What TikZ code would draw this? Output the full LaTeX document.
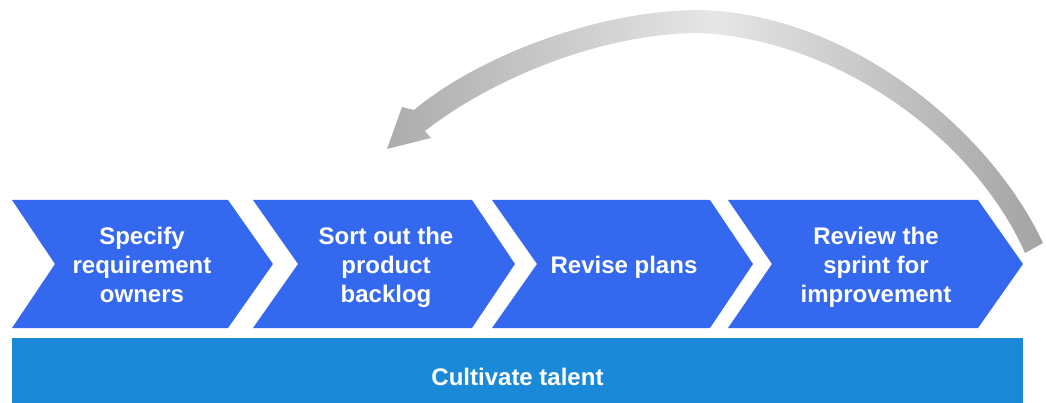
\documentclass[tikz,border=0pt]{standalone}
\usepackage{fontspec}
\setmainfont{Liberation Sans}
\definecolor{chev}{RGB}{52,104,238}
\definecolor{barblue}{RGB}{26,138,216}
\definecolor{arcend}{RGB}{172,172,172}
\definecolor{arcmid}{RGB}{230,230,230}
\begin{document}
\begin{tikzpicture}[x=1pt,y=-1pt,
  chevbox/.style={fill=chev, draw=none},
  lbl/.style={text=white, font=\bfseries\fontsize{24}{29}\selectfont, align=center, inner sep=0pt}]
\useasboundingbox (0,0) rectangle (1046,403);
% curved return arrow
\shade[left color=arcend, right color=arcend!95!black, middle color=arcmid]
  (1043,243) .. controls (990,130) and (850,14) .. (700,10)
  .. controls (600,10) and (480,55) .. (414,110)
  -- (402,107) -- (387,149) -- (431,138) -- (425,131)
  .. controls (490,80) and (600,33) .. (700,33)
  .. controls (840,40) and (975,140) .. (1025,253) -- cycle;
% chevrons
\fill[chevbox] (12,200) -- (228,200) -- (273,264) -- (228,328) -- (12,328) -- (55,264) -- cycle;
\fill[chevbox] (253,200) -- (472,200) -- (515,264) -- (472,328) -- (253,328) -- (298,264) -- cycle;
\fill[chevbox] (492,200) -- (710,200) -- (753,264) -- (710,328) -- (492,328) -- (537,264) -- cycle;
\fill[chevbox] (728,200) -- (978,200) -- (1023,264) -- (978,328) -- (728,328) -- (772,264) -- cycle;
% bottom bar
\fill[barblue] (12,338) rectangle (1023,403);
% labels
\node[lbl] (s1) at (142,265) {Specify\\requirement\\owners};
\node[lbl] (s2) at (386,267) {Sort out the\\product\\backlog};
\node[lbl] (s3) at (624,267) {Revise plans};
\node[lbl] (s4) at (876,267) {Review the\\sprint for\\improvement};
\node[lbl] (base) at (517.5,377) {Cultivate talent};
\end{tikzpicture}
\end{document}
